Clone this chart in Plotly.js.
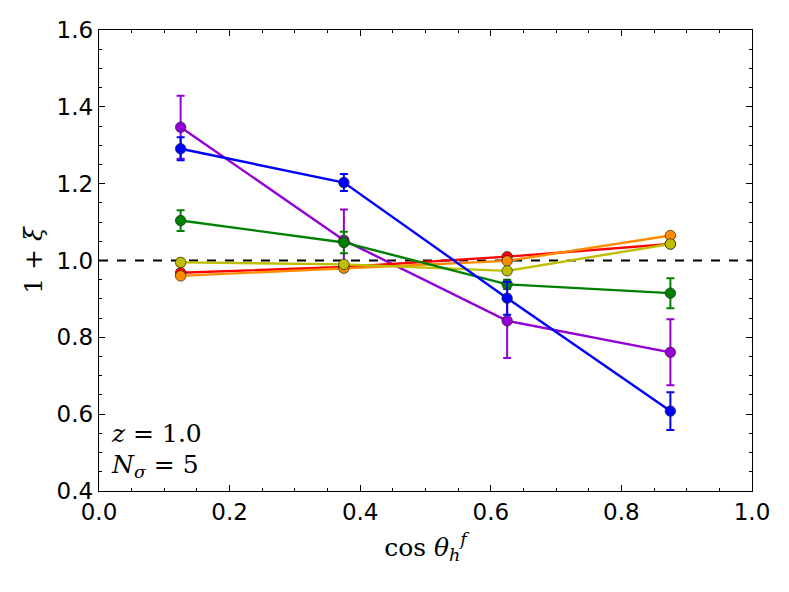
<!DOCTYPE html>
<html>
<head>
<meta charset="utf-8">
<script src="https://cdn.plot.ly/plotly-3.0.1.min.js"></script>
<style>
  html, body { margin: 0; padding: 0; background: #fff; }
  #chart { width: 789px; height: 592px; }
</style>
</head>
<body>
<div id="chart"></div>
<script>
// bin centres in cos(theta)
var cosBins = [0.125, 0.375, 0.625, 0.875];

// 1 + xi per series, with symmetric errors
var purpleY = [1.347, 1.053, 0.843, 0.761];
var purpleErr = [0.082, 0.080, 0.097, 0.086];
var blueY = [1.291, 1.203, 0.902, 0.608];
var blueErr = [0.030, 0.022, 0.043, 0.049];
var greenY = [1.104, 1.047, 0.938, 0.915];
var greenErr = [0.027, 0.028, 0.012, 0.039];
var yellowY = [0.995, 0.990, 0.973, 1.043];
var yellowErr = [0.010, 0.008, 0.008, 0.008];
var redY = [0.968, 0.983, 1.010, 1.043];
var redErr = [0.006, 0.005, 0.005, 0.005];
var orangeY = [0.960, 0.980, 0.999, 1.065];
var orangeErr = [0.006, 0.005, 0.005, 0.005];

var refLevel = 1.0;

function series(y, err, color) {
  return {
    x: cosBins,
    y: y,
    type: 'scatter',
    mode: 'lines+markers',
    line: {color: color, width: 2.4},
    marker: {color: color, size: 10.5, line: {color: '#222', width: 0.7}},
    error_y: {type: 'data', array: err, visible: true, color: color, thickness: 2, width: 4},
    showlegend: false,
    hoverinfo: 'x+y'
  };
}

var data = [
  series(purpleY, purpleErr, '#9400D3'),
  series(redY, redErr, '#FF0000'),
  series(orangeY, orangeErr, '#FF8C00'),
  series(yellowY, yellowErr, '#BFBF00'),
  series(greenY, greenErr, '#008000'),
  series(blueY, blueErr, '#0000FF')
];

var tickFont = {family: 'DejaVu Sans, sans-serif', size: 23, color: '#000'};
var mathFont = {family: 'DejaVu Serif, Liberation Serif, serif', size: 25, color: '#000'};

var axisBase = {
  dtick: 0.2,
  tickformat: '.1f',
  ticks: 'inside',
  ticklen: 6,
  tickwidth: 1,
  tickcolor: '#000',
  mirror: 'allticks',
  showline: true,
  linecolor: '#000',
  linewidth: 1.3,
  showgrid: false,
  zeroline: false,
  tickfont: tickFont,
  minor: {dtick: 0.05, ticks: 'inside', ticklen: 3, tickcolor: '#000', showgrid: false}
};

var layout = {
  width: 789,
  height: 592,
  margin: {l: 99, r: 37, t: 30, b: 101},
  paper_bgcolor: '#fff',
  plot_bgcolor: '#fff',
  xaxis: Object.assign({}, axisBase, {
    range: [0, 1],
    ticklabelstandoff: 0,
    title: {text: 'cos <i>θ</i><sub><i>h</i></sub><sup><i>f</i></sup>', font: mathFont, standoff: 14}
  }),
  yaxis: Object.assign({}, axisBase, {
    range: [0.4, 1.6],
    ticklabelstandoff: 0,
    title: {text: '1 + <i>ξ</i>', font: mathFont, standoff: 6}
  }),
  shapes: [{
    type: 'line', xref: 'paper', yref: 'y',
    x0: 0, x1: 1, y0: refLevel, y1: refLevel,
    line: {color: '#000', width: 2, dash: 'dash'},
    layer: 'below'
  }],
  annotations: [
    {xref: 'paper', yref: 'paper', x: 0.016, y: 0.125, xanchor: 'left', yanchor: 'middle',
     showarrow: false, text: '<i>z</i> = 1.0', font: mathFont},
    {xref: 'paper', yref: 'paper', x: 0.016, y: 0.055, xanchor: 'left', yanchor: 'middle',
     showarrow: false, text: '<i>N</i><sub><i>σ</i></sub> = 5', font: mathFont}
  ]
};

Plotly.newPlot('chart', data, layout, {displayModeBar: false, staticPlot: true});
</script>
</body>
</html>
